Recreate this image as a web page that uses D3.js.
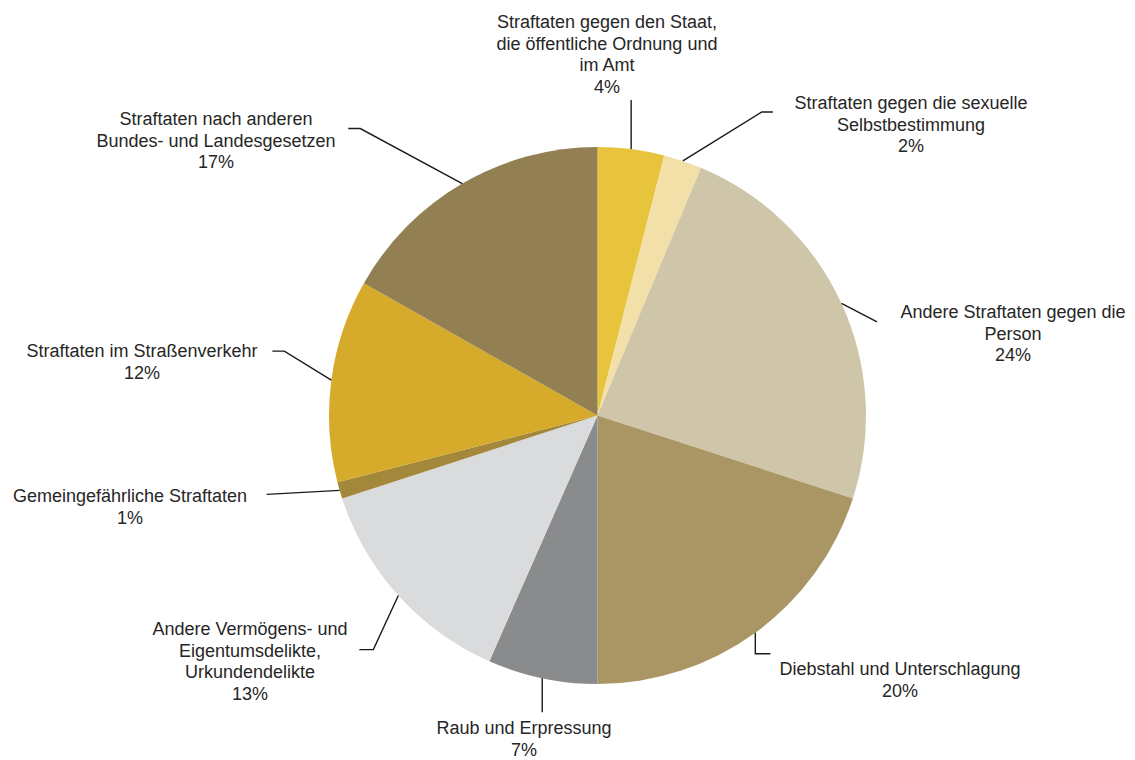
<!DOCTYPE html>
<html>
<head>
<meta charset="utf-8">
<script src="https://cdn.jsdelivr.net/npm/d3@7"></script>
<style>
  html, body { margin: 0; padding: 0; background: #ffffff; }
  svg { display: block; }
  text { font-family: "Liberation Sans", Arial, sans-serif; font-size: 18px; fill: #262626; }
</style>
</head>
<body>
<svg id="chart" width="1135" height="760"></svg>
<script>
// ---- data ----
const categories = [
  "Straftaten gegen den Staat,\ndie öffentliche Ordnung und\nim Amt",
  "Straftaten gegen die sexuelle\nSelbstbestimmung",
  "Andere Straftaten gegen die\nPerson",
  "Diebstahl und Unterschlagung",
  "Raub und Erpressung",
  "Andere Vermögens- und\nEigentumsdelikte,\nUrkundendelikte",
  "Gemeingefährliche Straftaten",
  "Straftaten im Straßenverkehr",
  "Straftaten nach anderen\nBundes- und Landesgesetzen"
];
const values = [4.0, 2.3, 23.7, 20.0, 6.6, 13.4, 1.0, 12.2, 16.8];
const percentLabels = ["4%", "2%", "24%", "20%", "7%", "13%", "1%", "12%", "17%"];

// ---- styles / layout ----
const colors = ["#E8C43D", "#F2E0A8", "#CFC6AA", "#A99664", "#8A8B8D", "#DADBDC", "#A3873A", "#D6AA2A", "#938052"];
// leader: offset from slice edge to elbow (dx, dy), then horizontal segment h; label: centre x, first baseline y
const labelLayout = [
  { dx: 0,    dy: -49, h: 0,   x: 607,  y: 28 },
  { dx: 79,   dy: -49, h: 11,  x: 911,  y: 109 },
  { dx: 35.5, dy: 18.5, h: 0,  x: 1013, y: 318 },
  { dx: 0,    dy: 21,  h: 15,  x: 900,  y: 675 },
  { dx: 0,    dy: 34,  h: 0,   x: 524,  y: 734 },
  { dx: -25,  dy: 54,  h: -14, x: 250,  y: 635 },
  { dx: -73,  dy: 4,   h: 0,   x: 130,  y: 502 },
  { dx: -47,  dy: -29, h: -12, x: 142,  y: 357 },
  { dx: -102, dy: -55, h: -12, x: 216,  y: 125 }
];
const cx = 597.5, cy = 415.5, radius = 268.5, lineHeight = 21.7;

const data = categories.map((c, i) => ({ name: c, value: values[i], pct: percentLabels[i], color: colors[i], lay: labelLayout[i] }));

const svg = d3.select("#chart");
const g = svg.append("g").attr("transform", `translate(${cx},${cy})`);

const pie = d3.pie().sort(null).value(d => d.value).startAngle(0).endAngle(2 * Math.PI);
const arc = d3.arc().innerRadius(0).outerRadius(radius);
const arcs = pie(data);

g.selectAll("path.slice")
  .data(arcs)
  .join("path")
  .attr("class", "slice")
  .attr("d", arc)
  .attr("fill", d => d.data.color);

// leader lines
g.selectAll("path.leader")
  .data(arcs)
  .join("path")
  .attr("class", "leader")
  .attr("fill", "none")
  .attr("stroke", "#1a1a1a")
  .attr("stroke-width", 1.4)
  .attr("d", d => {
    const a = (d.startAngle + d.endAngle) / 2;
    const x0 = radius * Math.sin(a), y0 = -radius * Math.cos(a);
    const x1 = x0 + d.data.lay.dx, y1 = y0 + d.data.lay.dy;
    const p = d3.path();
    p.moveTo(x0, y0);
    p.lineTo(x1, y1);
    if (d.data.lay.h) p.lineTo(x1 + d.data.lay.h, y1);
    return p.toString();
  });

// labels
const labels = svg.selectAll("text.label")
  .data(data)
  .join("text")
  .attr("class", "label")
  .attr("text-anchor", "middle")
  .attr("x", d => d.lay.x)
  .attr("y", d => d.lay.y);

labels.each(function(d) {
  const lines = d.name.split("\n").concat([d.pct]);
  d3.select(this).selectAll("tspan")
    .data(lines)
    .join("tspan")
    .attr("x", d.lay.x)
    .attr("dy", (l, i) => i === 0 ? 0 : lineHeight)
    .text(l => l);
});
</script>
</body>
</html>
